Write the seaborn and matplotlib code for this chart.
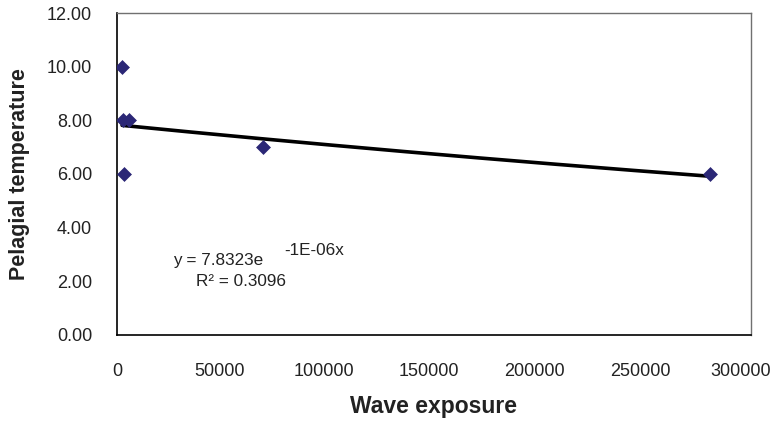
import numpy as np
import pandas as pd
import matplotlib
matplotlib.use("Agg")
import matplotlib.pyplot as plt
import matplotlib.transforms as mtransforms
import seaborn as sns

# Data
wave_exposure = [2400, 2800, 5700, 3300, 69000, 280600]
pelagial_temp = [10.0, 8.0, 8.0, 6.0, 7.0, 6.0]

# Exponential trendline (as reported in the chart)
fit_a = 7.8323
fit_b = -1e-06
eq_text = "y = 7.8323e"
eq_exp = "-1E-06x"
r2_text = "R\u00b2 = 0.3096"

x_ticks = [0, 50000, 100000, 150000, 200000, 250000, 300000]
y_ticks = [0, 2, 4, 6, 8, 10, 12]

sns.set_style("white")
plt.rcParams['font.family'] = ['Liberation Sans', 'DejaVu Sans']

df = pd.DataFrame({"x": wave_exposure, "y": pelagial_temp})
xs = np.linspace(min(wave_exposure), max(wave_exposure), 200)
trend = pd.DataFrame({"x": xs, "y": fit_a * np.exp(fit_b * xs)})

fig = plt.figure(figsize=(7.77, 4.21), dpi=100)
ax = fig.add_axes([0.1506, 0.2043, 0.8159, 0.7648])

sns.lineplot(data=trend, x="x", y="y", ax=ax, color="black", linewidth=2.6, zorder=2)
sns.scatterplot(data=df, x="x", y="y", ax=ax, marker="D", s=50, color="#2B2776",
                edgecolor="#2B2776", linewidth=0.5, zorder=3)

ax.set_xlim(0, 300000)
ax.set_ylim(0, 12)
ax.set_xticks(x_ticks)
ax.set_xticklabels([str(v) for v in x_ticks])
ax.set_yticks(y_ticks)
ax.set_yticklabels([f"{v:.2f}" for v in y_ticks])
ax.tick_params(axis="both", direction="out", length=5, width=1, labelsize=13,
               colors="black", labelcolor="#222222")
ax.tick_params(axis="y", pad=13)
ax.tick_params(axis="x", pad=15)

# small leftward nudge of x tick labels, as in the reference rendering
shifts_px = [0, -3, -4, -5, -5, -5, -10]
for lab, dx in zip(ax.get_xticklabels(), shifts_px):
    lab.set_transform(lab.get_transform() +
                      mtransforms.ScaledTranslation(dx / 100, 0, fig.dpi_scale_trans))

for side in ["left", "bottom"]:
    ax.spines[side].set_color("black")
    ax.spines[side].set_linewidth(1.2)
for side in ["top", "right"]:
    ax.spines[side].set_color("#707070")
    ax.spines[side].set_linewidth(1.0)

ax.set_xlabel("Wave exposure", fontsize=16.5, fontweight="bold", labelpad=11,
              color="#222222")
ax.set_ylabel("Pelagial temperature", fontsize=15.5, fontweight="bold", labelpad=12,
              color="#222222")

ax.text(26500, 2.61, eq_text, fontsize=12.3, ha="left", va="baseline", color="#222222")
ax.text(79000, 2.98, eq_exp, fontsize=12.3, ha="left", va="baseline", color="#222222")
ax.text(37400, 1.83, r2_text, fontsize=12.3, ha="left", va="baseline", color="#222222")

fig.savefig("out.png", dpi=100)
